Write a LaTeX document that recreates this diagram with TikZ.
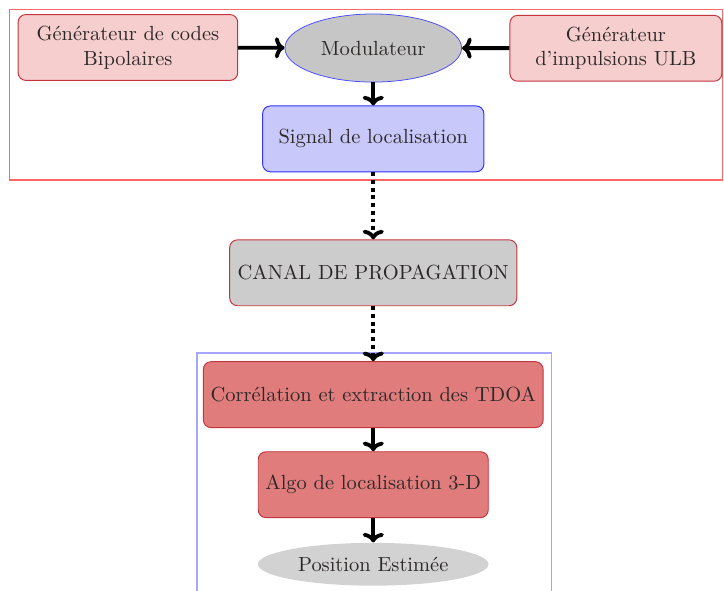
\documentclass[tikz,border=0pt]{standalone}
\usepackage{fontspec}
\usetikzlibrary{positioning,shapes.geometric,arrows.meta}

\definecolor{rosepale}{RGB}{246,206,206}
\definecolor{rosefonce}{RGB}{224,124,124}
\definecolor{bordrouge}{RGB}{196,52,60}
\definecolor{bleupale}{RGB}{200,200,250}
\definecolor{texte}{RGB}{45,40,40}

\tikzset{
	every node/.style={font=\fontsize{10.6}{12.8}\selectfont, text=texte},
	boite/.style={draw=bordrouge, rounded corners=4pt, align=center, minimum height=1.2cm, line width=0.5pt},
	fleche/.style={-{To[length=5pt,width=11pt]}, line width=2pt},
	pointille/.style={fleche, dotted}
}

\begin{document}
\begin{tikzpicture}
	\useasboundingbox (0,0) rectangle (13.19,-10.75);
	
	% cadres
	\draw[red!60, line width=0.6pt] (0.18,-0.18) rectangle (13.17,-3.28);
	\draw[blue!35, line width=0.6pt] (3.59,-6.43) rectangle (10.05,-10.9);
	
	% emission
	\node[boite, fill=rosepale, minimum width=4cm] (codes) at (2.33,-0.865) {Générateur de codes\\Bipolaires};
	\node[ellipse, draw=blue!70, fill=gray!45, minimum width=3.22cm, minimum height=1.24cm] (modul) at (6.8,-0.875) {Modulateur};
	\node[boite, fill=rosepale, minimum width=3.86cm] (impuls) at (11.22,-0.88) {Générateur\\d'impulsions ULB};
	\node[boite, draw=blue!80, fill=bleupale, minimum width=4.03cm] (signal) at (6.8,-2.53) {Signal de localisation};
	
	% canal
	\node[boite, fill=gray!40, minimum width=5.23cm] (canal) at (6.8,-4.97) {CANAL DE PROPAGATION};
	
	% reception
	\node[boite, fill=rosefonce, minimum width=6.19cm] (correl) at (6.8,-7.19) {Corrélation et extraction des TDOA};
	\node[boite, fill=rosefonce, minimum width=4.19cm] (algo) at (6.8,-8.83) {Algo de localisation 3-D};
	\node[ellipse, fill=gray!35, minimum width=4.19cm, minimum height=0.78cm] (position) at (6.8,-10.28) {Position Estimée};
	
	\draw[fleche] (codes) -- (modul);
	\draw[fleche] (impuls) -- (modul);
	\draw[fleche] (modul) -- (signal);
	\draw[pointille] (signal) -- (canal);
	\draw[pointille] (canal) -- (correl);
	\draw[fleche] (correl) -- (algo);
	\draw[fleche] (algo) -- (position);
\end{tikzpicture}
\end{document}
